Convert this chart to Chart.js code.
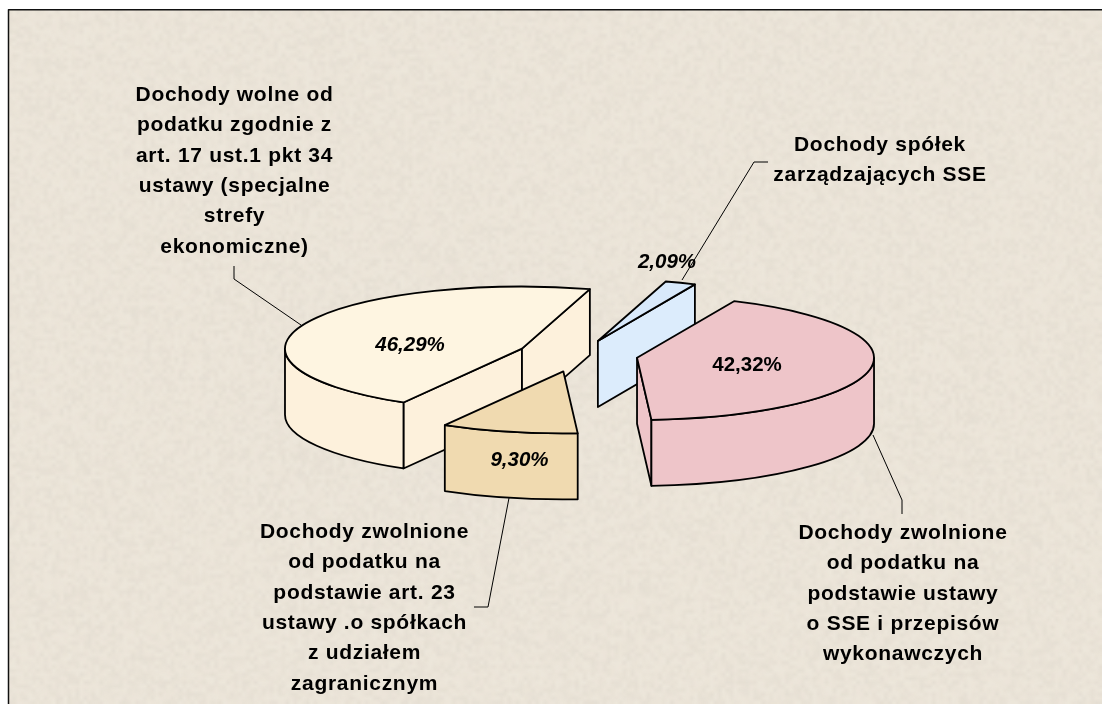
<!DOCTYPE html>
<html>
<head>
<meta charset="utf-8">
<style>
  html, body { margin: 0; padding: 0; background: #fff; }
  #wrap { width: 1102px; height: 704px; }
</style>
<script src="https://cdn.jsdelivr.net/npm/chart.js@4/dist/chart.umd.min.js"></script>
</head>
<body>
<div id="wrap"><canvas id="pie" width="1102" height="704"></canvas></div>
<script>
const categories = [
  'Dochody wolne od podatku zgodnie z art. 17 ust.1 pkt 34 ustawy (specjalne strefy ekonomiczne)',
  'Dochody spółek zarządzających SSE',
  'Dochody zwolnione od podatku na podstawie ustawy o SSE i przepisów wykonawczych',
  'Dochody zwolnione od podatku na podstawie art. 23 ustawy .o spółkach z udziałem zagranicznym'
];
const shares = [46.29, 2.09, 42.32, 9.30];
const topColors = ['#fef5e1', '#d8e9fb', '#eec5c9', '#f0dab0'];
const wallColors = ['#fdf1dc', '#dcecfc', '#eec5c9', '#f0dab0'];

// how the picture is set up: tilt of the pie, wall height, pull-out of each slice
const squash = 0.262;
const depth = 66;
const pullOut = [61, 57, 60, 64];

const labelLines = [
  ['Dochody wolne od', 'podatku zgodnie z', 'art. 17 ust.1 pkt 34', 'ustawy (specjalne', 'strefy', 'ekonomiczne)'],
  ['Dochody spółek', 'zarządzających SSE'],
  ['Dochody zwolnione', 'od podatku na', 'podstawie ustawy', 'o SSE i przepisów', 'wykonawczych'],
  ['Dochody zwolnione', 'od podatku na', 'podstawie art. 23', 'ustawy .o spółkach', 'z udziałem', 'zagranicznym']
];
const labelAnchors = [[234.5, 95], [880, 145], [903, 533], [364.5, 532]];
const pctAnchors = [[410, 345], [667, 262.5], [747, 365], [519.5, 460.5]];
const pctItalic = [true, true, false, true];
const leaders = [
  [[234, 266], [234, 279], [301, 325]],
  [[768, 162], [754, 162], [682, 280]],
  [[873, 435], [902, 500], [902, 514]],
  [[509, 498], [488, 607], [474, 607]]
];

const fmtPct = v => v.toFixed(2).replace('.', ',') + '%';

// soft mottled paper behind the chart
function paintPaper(ctx, x, y, w, h) {
  ctx.fillStyle = '#ebe4d8';
  ctx.fillRect(x, y, w, h);
  const tile = document.createElement('canvas');
  tile.width = 276; tile.height = 176;
  const t = tile.getContext('2d');
  const img = t.createImageData(276, 176);
  for (let j = 0; j < 176; j++) {
    for (let i = 0; i < 276; i++) {
      const s = Math.sin(i * 12.9898 + j * 78.233) * 43758.5453;
      const n = s - Math.floor(s);
      const k = (i + j * 276) * 4;
      const c = n > 0.5 ? 250 : 200;
      img.data[k] = c; img.data[k + 1] = c - 4; img.data[k + 2] = c - 14;
      img.data[k + 3] = Math.abs(n - 0.5) * 80;
    }
  }
  t.putImageData(img, 0, 0);
  ctx.save();
  ctx.beginPath();
  ctx.rect(x, y, w, h);
  ctx.clip();
  ctx.imageSmoothingEnabled = true;
  ctx.drawImage(tile, x, y, w, h);
  ctx.restore();
}

function shifted(arc, i) {
  const mid = (arc.startAngle + arc.endAngle) / 2;
  return {
    cx: arc.x + Math.cos(mid) * pullOut[i],
    cy: arc.y + Math.sin(mid) * pullOut[i] * squash,
    r: arc.outerRadius
  };
}

function rimPath(ctx, c, a0, a1, dy, back) {
  ctx.ellipse(c.cx, c.cy + dy, c.r, c.r * squash, 0, a0, a1, !!back);
}

function drawWalls(ctx, arc, i) {
  const c = shifted(arc, i);
  const a0 = arc.startAngle, a1 = arc.endAngle;
  ctx.fillStyle = wallColors[i];
  ctx.strokeStyle = '#000';
  ctx.lineWidth = 1.8;
  ctx.lineJoin = 'round';
  // flat cut faces, only the ones turned to the viewer
  [[a0, Math.cos(a0) < 0], [a1, Math.cos(a1) > 0]].forEach(([a, seen]) => {
    if (!seen) return;
    const px = c.cx + Math.cos(a) * c.r;
    const py = c.cy + Math.sin(a) * c.r * squash;
    ctx.beginPath();
    ctx.moveTo(c.cx, c.cy);
    ctx.lineTo(px, py);
    ctx.lineTo(px, py + depth);
    ctx.lineTo(c.cx, c.cy + depth);
    ctx.closePath();
    ctx.fill();
    ctx.stroke();
  });
  // curved outer wall, the part of the rim that faces down the screen
  [[0, Math.PI], [2 * Math.PI, 3 * Math.PI]].forEach(([lo, hi]) => {
    const from = Math.max(a0, lo), to = Math.min(a1, hi);
    if (to <= from) return;
    ctx.beginPath();
    rimPath(ctx, c, from, to, 0);
    rimPath(ctx, c, to, from, depth, true);
    ctx.closePath();
    ctx.fill();
    ctx.stroke();
  });
}

function outlineTop(ctx, arc, i) {
  const c = shifted(arc, i);
  ctx.beginPath();
  ctx.moveTo(c.cx, c.cy);
  rimPath(ctx, c, arc.startAngle, arc.endAngle, 0);
  ctx.closePath();
  ctx.strokeStyle = '#000';
  ctx.lineWidth = 1.8;
  ctx.lineJoin = 'round';
  ctx.stroke();
}

const tiltedPie = {
  id: 'tiltedPie',
  beforeDraw(chart) {
    paintPaper(chart.ctx, 8, 10, 1094, 694);
  },
  beforeDatasetDraw(chart, args) {
    const ctx = chart.ctx;
    const arcs = args.meta.data;
    const order = arcs.map((a, i) => i).sort((p, q) =>
      Math.sin((arcs[p].startAngle + arcs[p].endAngle) / 2) -
      Math.sin((arcs[q].startAngle + arcs[q].endAngle) / 2));
    order.forEach(i => {
      const arc = arcs[i];
      const mid = (arc.startAngle + arc.endAngle) / 2;
      drawWalls(ctx, arc, i);
      // top face: the library's own arc, pressed flat and moved out
      ctx.save();
      ctx.translate(arc.x + Math.cos(mid) * pullOut[i], arc.y + Math.sin(mid) * pullOut[i] * squash);
      ctx.scale(1, squash);
      ctx.translate(-arc.x, -arc.y);
      arc.draw(ctx);
      ctx.restore();
      outlineTop(ctx, arc, i);
    });
    return false;
  },
  afterDraw(chart) {
    const ctx = chart.ctx;
    ctx.save();
    ctx.strokeStyle = '#000';
    ctx.lineWidth = 1;
    leaders.forEach(pts => {
      ctx.beginPath();
      pts.forEach(([x, y], k) => k ? ctx.lineTo(x, y) : ctx.moveTo(x, y));
      ctx.stroke();
    });
    ctx.fillStyle = '#000';
    ctx.textAlign = 'center';
    ctx.textBaseline = 'middle';
    ctx.letterSpacing = '0.7px';
    ctx.font = 'bold 21px "Liberation Sans", Arial, sans-serif';
    labelLines.forEach((lines, i) => {
      lines.forEach((line, k) => {
        ctx.fillText(line, labelAnchors[i][0], labelAnchors[i][1] + k * 30.4);
      });
    });
    ctx.letterSpacing = '0px';
    shares.forEach((v, i) => {
      ctx.font = (pctItalic[i] ? 'italic ' : '') + 'bold 20.5px "Liberation Sans", Arial, sans-serif';
      ctx.fillText(fmtPct(v), pctAnchors[i][0], pctAnchors[i][1]);
    });
    // frame shows on the top and left only
    ctx.strokeStyle = '#111';
    ctx.lineWidth = 1.5;
    ctx.beginPath();
    ctx.moveTo(8.5, 704);
    ctx.lineTo(8.5, 9.75);
    ctx.lineTo(1102, 9.75);
    ctx.stroke();
    ctx.restore();
  }
};

new Chart(document.getElementById('pie'), {
  type: 'pie',
  data: {
    labels: categories,
    datasets: [{
      data: shares,
      backgroundColor: topColors,
      borderWidth: 0
    }]
  },
  options: {
    responsive: false,
    animation: false,
    rotation: 210,
    radius: 237,
    layout: { padding: { left: 54, top: 6 } },
    plugins: { legend: { display: false }, tooltip: { enabled: false } }
  },
  plugins: [tiltedPie]
});
</script>
</body>
</html>
